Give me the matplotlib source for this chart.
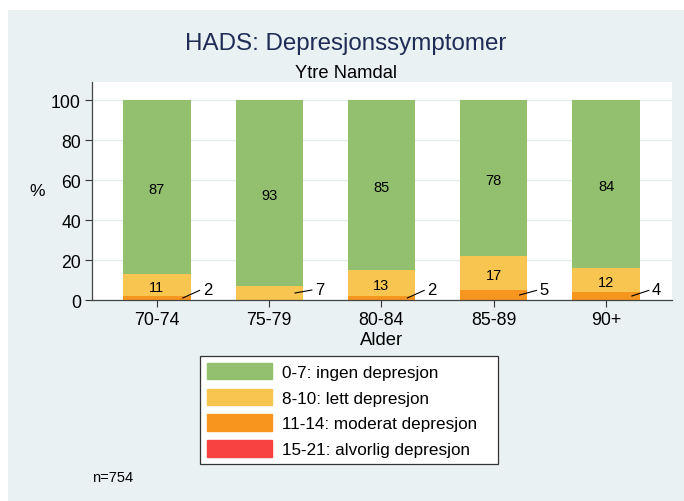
import matplotlib.pyplot as plt
import matplotlib.patches as mpatches
import numpy as np

plt.rcParams['font.family'] = ['Liberation Sans', 'DejaVu Sans']

ages = ['70-74', '75-79', '80-84', '85-89', '90+']
ingen = [87, 93, 85, 78, 84]
lett = [11, 7, 13, 17, 12]
moderat = [2, 0, 2, 5, 4]
alvorlig = [0, 0, 0, 0, 0]
labels = ['0-7: ingen depresjon', '8-10: lett depresjon',
          '11-14: moderat depresjon', '15-21: alvorlig depresjon']
colors = ['#92C06E', '#F8C650', '#F7961E', '#F84141']

fig = plt.figure(figsize=(6.84, 5.02), dpi=100)
fig.patch.set_facecolor('white')
# stata-like background panel
fig.patches.append(mpatches.Rectangle((8 / 684, 0), 1, 1 - 11 / 502, transform=fig.transFigure,
                                      facecolor='#E9F1F3', edgecolor='none', zorder=-5))

ax = fig.add_axes([92 / 684, 1 - 301 / 502, 580 / 684, 218 / 502])
ax.set_zorder(2)
ax.set_facecolor('white')

x = np.arange(len(ages))
w = 0.6
# stack order: bottom is most severe
series = [alvorlig, moderat, lett, ingen]
cols = colors[::-1]
bottom = np.zeros(len(ages))
for vals, c in zip(series, cols):
    vals = np.array(vals, dtype=float)
    ax.bar(x, vals, w, bottom=bottom, color=c, edgecolor='none', zorder=2)
    for i, v in enumerate(vals):
        if v <= 0:
            continue
        mid = bottom[i] + v / 2
        if v >= 10:
            ax.text(x[i], mid - 0.8, f'{v:.0f}', ha='center', va='center', fontsize=10.5, zorder=3)
        else:
            x0, x1 = x[i] + 0.23, x[i] + 0.38
            y1 = max(mid + 1.5, 4.8)
            ax.plot([x0, x1], [mid, y1], color='black', lw=0.8, zorder=3)
            ax.text(x1 + 0.03, y1 + 0.3, f'{v:.0f}', ha='left', va='center', fontsize=12, zorder=3)
    bottom += vals

ax.set_xlim(-0.578, 4.587)
ax.set_ylim(0, 109)
ax.set_yticks(range(0, 101, 20))
ax.set_xticks(x)
ax.set_xticklabels(ages, fontsize=12.8)
ax.tick_params(axis='y', labelsize=12.7, length=5, width=0.8, colors='#333333', labelcolor='black', pad=3)
ax.tick_params(axis='x', length=5, width=0.8, colors='#333333', labelcolor='black', pad=3)
ax.yaxis.grid(True, color='#E3ECEC', lw=1, zorder=0)
ax.set_axisbelow(True)
for s in ['top', 'right']:
    ax.spines[s].set_visible(False)
for s in ['left', 'bottom']:
    ax.spines[s].set_color('#444444')
    ax.spines[s].set_linewidth(0.9)

ax.set_xlabel('Alder', fontsize=13.3, labelpad=2)
fig.text(37 / 684, 1 - 191 / 502, '%', fontsize=12.5, ha='center', va='center')

cx = 346 / 684
fig.text(cx, 1 - 44 / 502, 'HADS: Depresjonssymptomer', fontsize=17.4, color='#1F2D56',
         ha='center', va='center')
fig.text(cx, 1 - 73 / 502, 'Ytre Namdal', fontsize=13.2, ha='center', va='center')

handles = [mpatches.Patch(color=c, label=l + '   ') for c, l in zip(colors, labels)]
leg = fig.legend(handles=handles, loc='center', bbox_to_anchor=(349 / 684, 1 - 411 / 502),
                 fontsize=12.3, frameon=True, fancybox=False, edgecolor='#333333', framealpha=1,
                 handlelength=3.8, handleheight=1.1, labelspacing=0.52, handletextpad=0.6,
                 borderpad=0.4, borderaxespad=0)
leg.get_frame().set_linewidth(0.9)

fig.text(92 / 684, 1 - 478 / 502, 'n=754', fontsize=10.5, ha='left', va='center')

fig.savefig('out.png', dpi=100)
